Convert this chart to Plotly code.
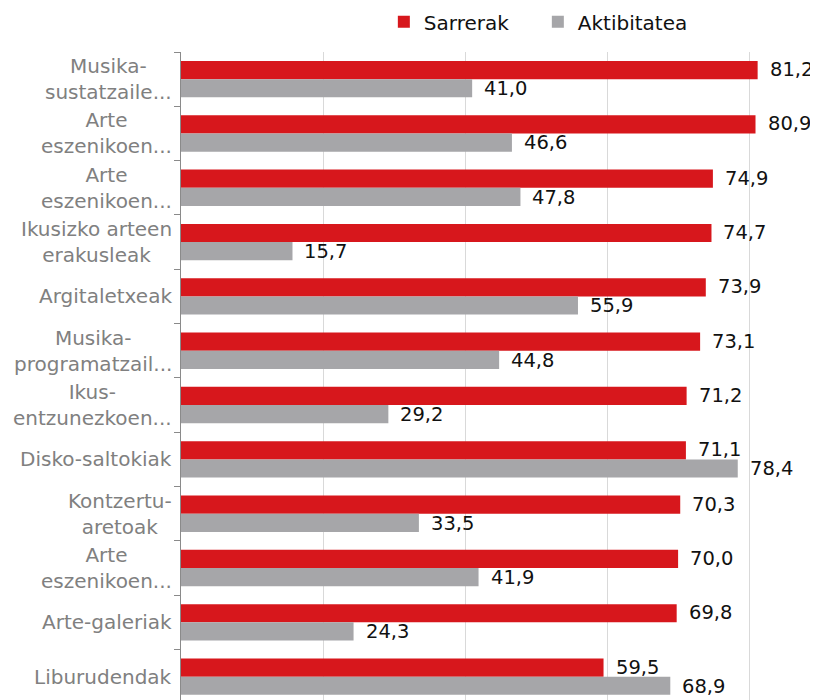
import plotly.graph_objects as go

categories = [
    "Musika-<br>sustatzaile...",
    "Arte<br>eszenikoen...",
    "Arte<br>eszenikoen...",
    "Ikusizko arteen<br>erakusleak",
    "Argitaletxeak",
    "Musika-<br>programatzail...",
    "Ikus-<br>entzunezkoen...",
    "Disko-saltokiak",
    "Kontzertu-<br>aretoak",
    "Arte<br>eszenikoen...",
    "Arte-galeriak",
    "Liburudendak",
]
# unique ids for the categorical axis (some labels repeat)
cat_ids = [f"c{i}" for i in range(len(categories))]

sarrerak = [81.2, 80.9, 74.9, 74.7, 73.9, 73.1, 71.2, 71.1, 70.3, 70.0, 69.8, 59.5]
aktibitatea = [41.0, 46.6, 47.8, 15.7, 55.9, 44.8, 29.2, 78.4, 33.5, 41.9, 24.3, 68.9]

RED = "#d7171c"
GRAY = "#a6a6a9"
FONT = "DejaVu Sans"

fig = go.Figure()
fig.add_trace(go.Bar(name="Sarrerak", y=cat_ids, x=sarrerak, orientation="h",
                     marker=dict(color=RED, line=dict(width=0))))
fig.add_trace(go.Bar(name="Aktibitatea", y=cat_ids, x=aktibitatea, orientation="h",
                     marker=dict(color=GRAY, line=dict(width=0))))

annotations = []
# category labels (centered multi-line)
for cid, lab in zip(cat_ids, categories):
    annotations.append(dict(x=0, xref="paper", y=cid, yref="y", text=lab,
                            xanchor="right", yanchor="middle", align="center",
                            xshift=-7, showarrow=False,
                            font=dict(family=FONT, size=20, color="#808080")))
# value labels
for cid, a, b in zip(cat_ids, sarrerak, aktibitatea):
    for val, ys in ((a, 9.5), (b, -9.5)):
        annotations.append(dict(x=val, y=cid, xref="x", yref="y",
                                text=f"{val:.1f}".replace(".", ","),
                                xanchor="left", yanchor="middle", xshift=10, yshift=ys,
                                showarrow=False,
                                font=dict(family=FONT, size=19.5, color="#111111")))

# the page body adds an 8px margin, so the figure is sized to end at the window edge
fig.update_layout(
    width=810, height=692,
    margin=dict(l=173, r=0, t=44, b=0, pad=0),
    plot_bgcolor="white", paper_bgcolor="white",
    barmode="group", bargap=0.33, bargroupgap=0,
    font=dict(family=FONT, size=19, color="#111111"),
    legend=dict(orientation="h", xref="container", yref="container",
                x=0.464, xanchor="left", y=0.98, yanchor="middle",
                font=dict(family=FONT, size=20, color="#111111"),
                entrywidth=109, traceorder="normal"),
    annotations=annotations,
    xaxis=dict(range=[0, 89.7], showticklabels=False, showgrid=True,
               gridcolor="#d9d9d9", gridwidth=1, dtick=20, zeroline=False,
               showline=False, ticks=""),
    yaxis=dict(type="category", categoryorder="array", categoryarray=cat_ids,
               range=[11.43, -0.5], showticklabels=False, showgrid=False,
               showline=True, linecolor="#8a8a8a", linewidth=1,
               ticks="outside", tickson="boundaries", ticklen=6,
               tickcolor="#8a8a8a", zeroline=False),
)

fig.write_html("out.html")
